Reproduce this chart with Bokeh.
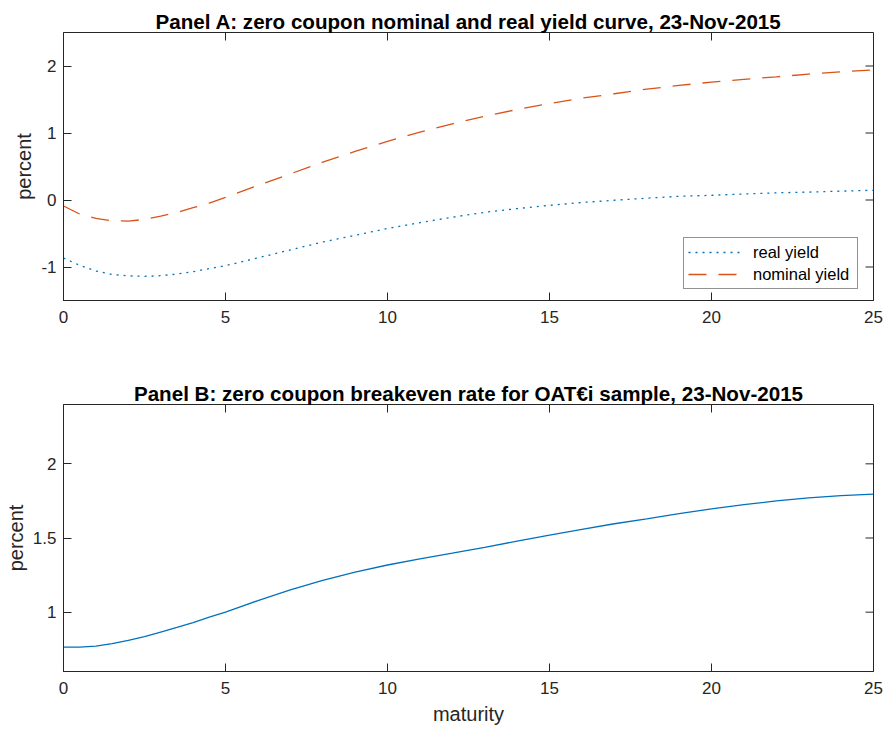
import math
from bokeh.plotting import figure
from bokeh.layouts import column
from bokeh.models import ColumnDataSource, Legend, LegendItem, FixedTicker, Range1d
from bokeh.embed import file_html
from bokeh.resources import INLINE

# ---------------- data ----------------
maturity = [0, 0.5, 1, 1.5, 2, 2.5, 3, 3.5, 4, 4.5, 5,
            6, 7, 8, 9, 10, 11, 12, 13, 14, 15,
            16, 17, 18, 19, 20, 21, 22, 23, 24, 25]
real_yield = [-0.866, -0.975, -1.06, -1.11, -1.133, -1.139, -1.13, -1.105, -1.07, -1.024, -0.98,
              -0.864, -0.745, -0.627, -0.527, -0.425, -0.338, -0.257, -0.184, -0.128, -0.08,
              -0.037, -0.004, 0.027, 0.055, 0.07, 0.09, 0.107, 0.118, 0.132, 0.145]
nominal_yield = [-0.09, -0.21, -0.275, -0.31, -0.315, -0.29, -0.24, -0.185, -0.115, -0.045, 0.04,
                 0.217, 0.39, 0.565, 0.725, 0.874, 1.014, 1.137, 1.25, 1.35, 1.44,
                 1.52, 1.586, 1.655, 1.71, 1.76, 1.80, 1.838, 1.88, 1.914, 1.94]
breakeven = [0.765, 0.765, 0.771, 0.788, 0.81, 0.835, 0.866, 0.897, 0.929, 0.966, 1.0,
             1.078, 1.15, 1.214, 1.27, 1.318, 1.36, 1.398, 1.437, 1.479, 1.52,
             1.558, 1.596, 1.629, 1.664, 1.697, 1.725, 1.75, 1.77, 1.786, 1.796]

x_ticks = [0, 5, 10, 15, 20, 25]
x_tick_labels = ["0", "5", "10", "15", "20", "25"]
ya_ticks = [-1, 0, 1, 2]
ya_tick_labels = ["-1", "0", "1", "2"]
yb_ticks = [1, 1.5, 2]
yb_tick_labels = ["1", "1.5", "2"]

title_a = "Panel A: zero coupon nominal and real yield curve, 23-Nov-2015"
title_b = "Panel B: zero coupon breakeven rate for OAT\u20aci sample, 23-Nov-2015"

BLUE = "#0072BD"
ORANGE = "#D95319"
AX = "#262626"
FONT = "Liberation Sans"

src = ColumnDataSource(dict(m=maturity, real=real_yield, nom=nominal_yield, be=breakeven))


def style_axis(ax, ticks, labels):
    ax.ticker = FixedTicker(ticks=ticks)
    ax.major_label_overrides = {t: l for t, l in zip(ticks, labels)}
    ax.major_tick_in = 8
    ax.major_tick_out = 0
    ax.minor_tick_in = 0
    ax.minor_tick_out = 0
    ax.major_tick_line_color = AX
    ax.axis_line_color = AX
    ax.major_label_text_font = FONT
    ax.major_label_text_color = AX
    ax.major_label_text_font_size = "17px"
    ax.axis_label_text_font = FONT
    ax.axis_label_text_font_style = "normal"
    ax.axis_label_text_color = AX
    ax.axis_label_text_font_size = "20px"


def make_fig(height, top, bottom, title, yr, yticks, ylabels, xlabel):
    p = figure(width=883, height=height, output_backend="svg", toolbar_location=None,
               x_range=Range1d(0, 25), y_range=Range1d(*yr),
               min_border_left=63, min_border_right=10,
               min_border_top=top, min_border_bottom=bottom)
    p.title.text = title
    p.title.align = "center"
    p.title.text_font = FONT
    p.title.text_font_size = "20.6px"
    p.title.text_font_style = "bold"
    p.title.text_color = "#000000"
    p.title.standoff = 0
    p.grid.visible = False
    p.outline_line_color = AX
    p.outline_line_width = 1
    p.background_fill_color = "white"
    p.border_fill_color = "white"

    style_axis(p.xaxis[0], x_ticks, x_tick_labels)
    style_axis(p.yaxis[0], yticks, ylabels)
    p.xaxis[0].major_label_standoff = 10
    p.yaxis[0].major_label_standoff = 7
    p.yaxis[0].axis_label = "percent"
    p.yaxis[0].axis_label_standoff = 3
    if xlabel:
        p.xaxis[0].axis_label = xlabel
        p.xaxis[0].axis_label_standoff = 6

    # mirrored tick marks on the top and right edges (box on)
    n = len(x_ticks)
    p.ray(x=x_ticks, y=[yr[1]] * n, length=8, length_units="screen",
          angle=-math.pi / 2, line_color=AX, line_width=1)
    m = len(yticks)
    p.ray(x=[25] * m, y=yticks, length=8, length_units="screen",
          angle=math.pi, line_color=AX, line_width=1)
    return p


# ---------------- Panel A ----------------
pa = make_fig(379, 32, 79, title_a, (-1.5, 2.5), ya_ticks, ya_tick_labels, None)
r_real = pa.line("m", "real", source=src, line_color=BLUE, line_width=1.3, line_dash="2 5")
r_nom = pa.line("m", "nom", source=src, line_color=ORANGE, line_width=1.3, line_dash="18 12")

legend = Legend(items=[LegendItem(label="real yield", renderers=[r_real]),
                       LegendItem(label="nominal yield", renderers=[r_nom])],
                location=(620, 11))
legend.label_text_font = FONT
legend.label_text_font_size = "16.5px"
legend.label_text_color = "#000000"
legend.glyph_width = 54
legend.glyph_height = 20
legend.label_height = 20
legend.label_standoff = 11
legend.label_width = 100
legend.padding = 4
legend.spacing = 2
legend.margin = 0
legend.border_line_color = AX
legend.border_line_width = 1
legend.background_fill_color = "white"
legend.background_fill_alpha = 1
pa.add_layout(legend, "center")

# ---------------- Panel B ----------------
pb = make_fig(352, 24, 60, title_b, (0.6, 2.4), yb_ticks, yb_tick_labels, "maturity")
pb.line("m", "be", source=src, line_color=BLUE, line_width=1.3)

layout = column(pa, pb, spacing=0)
open("out.html", "w").write(file_html(layout, INLINE))
